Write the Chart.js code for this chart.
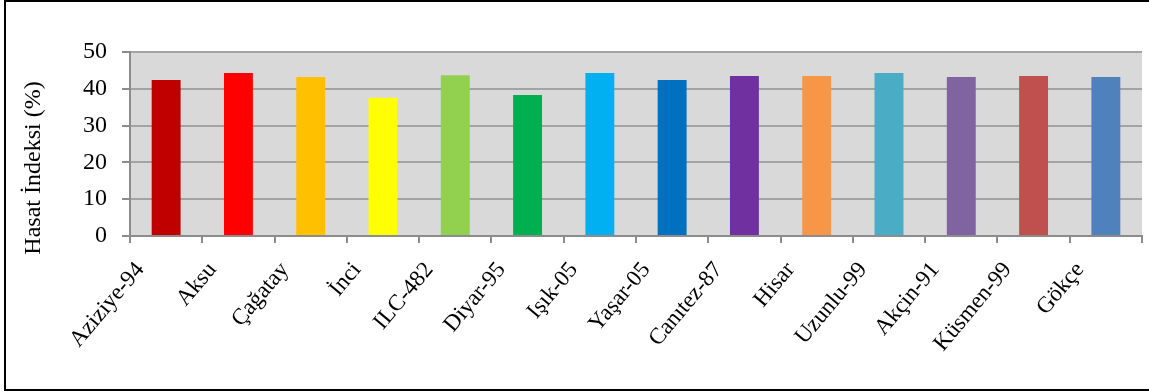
<!DOCTYPE html>
<html>
<head>
<meta charset="utf-8">
<script src="https://cdn.jsdelivr.net/npm/chart.js@4/dist/chart.umd.min.js"></script>
<style>
  html, body { margin: 0; padding: 0; background: #ffffff; overflow: hidden; }
  #wrap { position: relative; width: 1149px; height: 392px; }
  #frame { position: absolute; left: 4px; top: 0px; width: 1170px; height: 387px; border: 2px solid #000; box-sizing: content-box; pointer-events: none; }
  canvas { position: absolute; left: 0; top: 0; }
</style>
</head>
<body>
<div id="wrap">
  <canvas id="c" width="1149" height="392"></canvas>
  <div id="frame"></div>
</div>
<script>
// Chickpea cultivars and their harvest index (%)
const cultivars = ["Aziziye-94", "Aksu", "Çağatay", "İnci", "ILC-482", "Diyar-95", "Işık-05",
                   "Yaşar-05", "Canıtez-87", "Hisar", "Uzunlu-99", "Akçin-91", "Küsmen-99", "Gökçe"];
const harvestIndex = [42.4, 44.3, 43.2, 37.6, 43.7, 38.3, 44.3, 42.4, 43.5, 43.5, 44.3, 43.2, 43.5, 43.2];
const barColors = ["#C00000", "#FF0000", "#FFC000", "#FFFF00", "#92D050", "#00B050", "#00B0F0",
                   "#0070C0", "#7030A0", "#F79646", "#4BACC6", "#8064A2", "#C0504D", "#4F81BD"];
const yTicks = [0, 10, 20, 30, 40, 50];
const yTitle = "Hasat İndeksi (%)";

const FONT = "'Liberation Serif', 'Times New Roman', serif";

// grey plot background
const plotBackground = {
  id: 'plotBackground',
  beforeDraw(chart) {
    const { ctx, chartArea: a } = chart;
    ctx.save();
    ctx.fillStyle = '#D9D9D9';
    ctx.fillRect(a.left, a.top, a.right - a.left, a.bottom - a.top);
    ctx.restore();
  }
};

// vertical axis title, drawn a little below the plot's middle
const yAxisTitle = {
  id: 'yAxisTitle',
  afterDraw(chart) {
    const { ctx, chartArea: a } = chart;
    ctx.save();
    ctx.translate(34, (a.top + a.bottom) / 2 + 24);
    ctx.rotate(-Math.PI / 2);
    ctx.font = "24px " + FONT;
    ctx.fillStyle = '#000';
    ctx.textAlign = 'center';
    ctx.textBaseline = 'middle';
    ctx.fillText(yTitle, 0, 0);
    ctx.restore();
  }
};

new Chart(document.getElementById('c'), {
  type: 'bar',
  data: {
    labels: cultivars,
    datasets: [{
      data: harvestIndex,
      backgroundColor: barColors,
      borderWidth: 0,
      categoryPercentage: 1.0,
      barPercentage: 0.4
    }]
  },
  options: {
    responsive: false,
    animation: false,
    devicePixelRatio: 1,
    layout: { padding: { top: 52, right: 7, left: 0, bottom: 0 } },
    plugins: { legend: { display: false }, tooltip: { enabled: false } },
    scales: {
      x: {
        afterFit(scale) { scale.height = 156; },
        grid: { display: true, drawOnChartArea: false, drawTicks: true, tickLength: 7, color: '#8C8C8C', lineWidth: 2, offset: true },
        border: { display: true, color: '#8C8C8C', width: 2 },
        ticks: {
          color: '#000',
          font: { family: FONT, size: 23 },
          maxRotation: 50, minRotation: 50,
          autoSkip: false,
          padding: 14,
          labelOffset: -26
        }
      },
      y: {
        min: 0, max: 50,
        afterFit(scale) { scale.width = 130; },
        afterBuildTicks(scale) { scale.ticks = yTicks.map(v => ({ value: v })); },
        grid: { color: '#A3A3A3', lineWidth: 2, tickLength: 8, drawTicks: true, tickColor: '#8C8C8C' },
        border: { display: true, color: '#8C8C8C', width: 2 },
        ticks: { color: '#000', font: { family: FONT, size: 24 }, padding: 15 }
      }
    }
  },
  plugins: [plotBackground, yAxisTitle]
});
</script>
</body>
</html>
